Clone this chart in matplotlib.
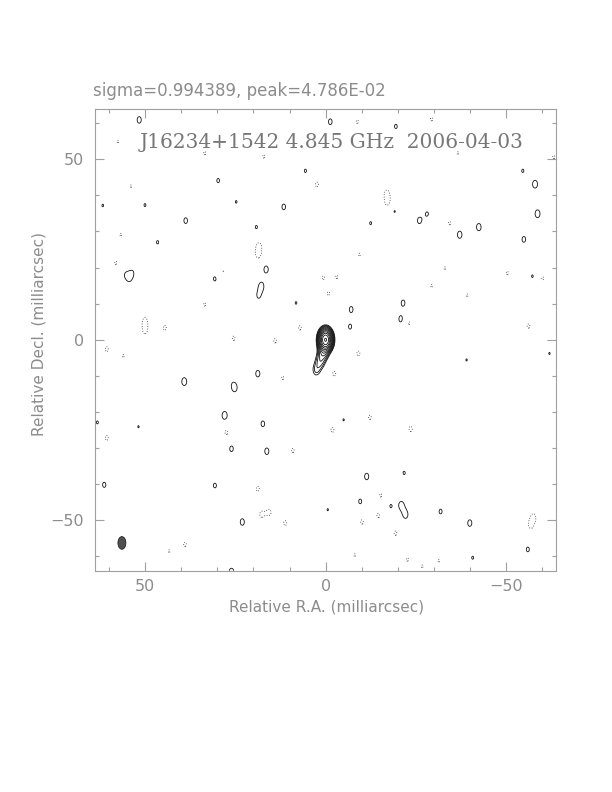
import matplotlib
matplotlib.use('Agg')
import matplotlib.pyplot as plt
import numpy as np
from matplotlib.patches import Ellipse
from matplotlib.ticker import MultipleLocator

# Header values
sigma_txt = 'sigma=0.994389, peak=4.786E-02'
title_txt = 'J16234+1542 4.845 GHz  2006-04-03'

# Restoring beam (mas): FWHM along RA and Dec, and where it is drawn
beam_w, beam_h = 2.2, 3.5
beam_x, beam_y = 56.5, -56.3

# Source components (x = rel. RA mas, y = rel. Dec mas, flux in mJy/beam)
comp_x = [0.0, 0.6, 1.5, 2.6]
comp_y = [0.0, -3.4, -6.0, -8.4]
comp_f = [47.0, 3.6, 2.1, 1.45]

# Positive noise peaks
pos_x = [51.7, 29.8, 50.1, 38.8, 11.6, 19.2, 5.6, 46.6, 30.7, 55.6, 53.5, 54.4,
         16.5, 17.8, 18.6, 8.2, 24.8, 61.8,
         -1.3, -19.5, -54.7, -58.1, -58.8, -19.1, -26.0, -28.2, -12.5, -37.2,
         -42.5, -55.0, -57.4, -21.5, -7.1, -20.9, -6.8,
         39.2, 25.2, 25.9, 18.8, 28.0, 17.4, 26.1, 16.3, 63.3, 61.4, 30.7, 23.1,
         -11.4, -21.8, -9.6, -18.1, -21.0, -22.2, -31.9, -40.0, -56.1, -40.8,
         26.1, -5.0, 51.9, -0.6, -39.1, -62.1]
pos_y = [60.9, 44.1, 37.3, 33.0, 36.8, 31.2, 46.8, 27.0, 16.9, 18.1, 18.7, 16.7,
         19.5, 14.9, 12.1, 10.2, 38.2, 37.2,
         60.4, 59.1, 46.8, 43.1, 34.9, 35.6, 33.0, 34.9, 32.3, 29.1,
         31.2, 27.8, 17.6, 10.2, 8.4, 5.7, 3.6,
         -11.6, -13.4, -11.9, -9.4, -21.0, -23.3, -30.2, -30.9, -22.9, -40.2, -40.4, -50.5,
         -37.9, -36.9, -44.8, -46.1, -45.8, -48.5, -47.6, -50.8, -58.1, -60.4,
         -64.4, -22.2, -24.1, -47.1, -5.6, -3.8]
pos_a = [1.2, 1.08, 1.04, 1.15, 1.15, 1.05, 1.05, 1.05, 1.1, 0.8, 0.85, 0.8,
         1.22, 1.22, 1.02, 1.03, 1.03, 1.03,
         1.15, 1.08, 1.05, 1.3, 1.3, 1.05, 1.15, 1.04, 1.04, 1.25,
         1.25, 1.15, 1.04, 1.15, 1.15, 1.2, 1.1,
         1.3, 1.15, 0.45, 1.2, 1.33, 1.15, 1.15, 1.2, 1.04, 1.12, 1.1, 1.2,
         1.2, 1.05, 1.1, 1.04, 1.22, 1.22, 1.1, 1.2, 1.1, 1.04,
         1.3, 1.02, 1.02, 1.02, 1.02, 1.02]

# Negative noise troughs
neg_x = [18.5, 18.7, 2.4, 50.1, 50.1, 44.6, 25.5, 14.0, 7.1, 58.2, 56.8, 54.0,
         33.5, 17.1, 33.5, 28.5, 0.6, 57.6,
         -8.8, -29.4, -17.0, -17.2, -36.7, -63.3, -34.4, -50.4, -60.2, -9.4,
         -33.1, -29.4, -39.3, -23.1, -56.3, -3.1, -0.8,
         60.7, 56.1, -9.1, -2.4, 11.9, 27.5, -1.9, -12.3, -23.6, 60.7, 9.1,
         18.8, 15.6, 17.8, 11.2, -15.3, -14.6, -10.1, -19.4, 39.0, 43.4, -22.7,
         -31.4, -57.7, -56.9, -8.1, -26.8]
neg_y = [26.0, 23.5, 43.0, 5.3, 2.5, 3.3, 0.4, -0.3, 3.3, 21.3, 29.1, 42.5,
         51.7, 50.8, 9.8, 19.0, 17.2, 54.9,
         60.4, 61.1, 40.6, 38.0, 51.7, 50.6, 32.3, 18.5, 17.0, 23.6,
         19.8, 14.9, 12.3, 4.6, 3.8, 17.4, 12.8,
         -2.6, -4.5, -3.8, -9.4, -10.6, -25.7, -25.0, -21.5, -24.7, -27.2, -30.7,
         -41.3, -47.8, -48.4, -50.8, -43.1, -48.7, -50.5, -53.6, -56.7, -58.6, -60.9,
         -61.3, -49.1, -51.4, -59.7, -62.8]
neg_a = [-1.1, -1.1, -1.1, -1.1, -1.1, -1.1, -1.08, -1.08, -1.08, -1.05, -1.03, -1.03,
         -1.05, -1.05, -1.05, -1.03, -1.05, -1.03,
         -1.05, -1.05, -1.1, -1.1, -1.03, -1.05, -1.05, -1.05, -1.05, -1.03,
         -1.03, -1.03, -1.03, -1.08, -1.08, -1.05, -1.05,
         -1.1, -1.03, -1.1, -1.1, -1.05, -1.1, -1.1, -1.08, -1.12, -1.1, -1.08,
         -1.1, -1.1, -1.1, -1.1, -1.05, -1.08, -1.08, -1.08, -1.08, -1.03, -1.05,
         -1.03, -1.1, -1.1, -1.03, -1.03]

# Contour levels (mJy/beam)
levels_neg = [-1.0]
levels_pos = [1.0, 1.41, 2.0, 2.83, 4.0, 5.66, 8.0, 11.3, 16.0, 22.6, 32.0, 45.3]

# Map grid and model image (components restored with the beam)
step = 0.1
xv = np.arange(-64.0, 64.0 + step / 2, step)
yv = np.arange(-64.0, 64.0 + step / 2, step)
X, Y = np.meshgrid(xv, yv)
sx = beam_w / 2.3548
sy = beam_h / 2.3548
img = np.zeros_like(X)


def add_blob(x0, y0, a):
    i0 = max(np.searchsorted(yv, y0 - 7), 0)
    i1 = min(np.searchsorted(yv, y0 + 7), len(yv))
    j0 = max(np.searchsorted(xv, x0 - 5), 0)
    j1 = min(np.searchsorted(xv, x0 + 5), len(xv))
    if i1 <= i0 or j1 <= j0:
        return
    gx = X[i0:i1, j0:j1] - x0
    gy = Y[i0:i1, j0:j1] - y0
    img[i0:i1, j0:j1] += a * np.exp(-(gx**2 / (2 * sx**2) + gy**2 / (2 * sy**2)))


for xs, ys, amps in [(comp_x, comp_y, comp_f), (pos_x, pos_y, pos_a), (neg_x, neg_y, neg_a)]:
    for x0, y0, a in zip(xs, ys, amps):
        add_blob(x0, y0, a)

# Figure
fig = plt.figure(figsize=(6.12, 7.92), dpi=100)
ax = fig.add_axes([0.155, 0.2794, 0.754, 0.5833])

ax.contour(X, Y, img, levels=levels_pos, colors='#111111', linewidths=0.6)
ax.contour(X, Y, img, levels=levels_neg, colors='#333333', linewidths=0.6,
           linestyles=[(0, (1, 2))])

ax.add_patch(Ellipse((beam_x, beam_y), beam_w, beam_h,
                     facecolor='#505050', edgecolor='#222222', linewidth=0.6))

ax.set_xlim(64, -64)
ax.set_ylim(-64, 64)

gray = '#8c8c8c'
for sp in ax.spines.values():
    sp.set_color('#a0a0a0')
    sp.set_linewidth(0.8)
ax.xaxis.set_major_locator(MultipleLocator(50))
ax.xaxis.set_minor_locator(MultipleLocator(10))
ax.yaxis.set_major_locator(MultipleLocator(50))
ax.yaxis.set_minor_locator(MultipleLocator(10))
ax.tick_params(which='both', direction='in', top=True, right=True,
               color='#a0a0a0', labelcolor=gray, labelsize=11.5)
ax.tick_params(which='major', length=6.5, width=0.8, pad=6)
ax.tick_params(which='minor', length=3, width=0.8)
ax.tick_params(axis='y', which='major', pad=8)

ax.text(0.514, 0.928, title_txt, transform=ax.transAxes, ha='center', va='center',
        fontsize=14.5, family='DejaVu Serif', color='#777777')

fig.text(93 / 612, 1 - 91 / 792, sigma_txt, ha='left', va='center',
         fontsize=12, color=gray)
fig.text(326.3 / 612, 1 - 607 / 792, 'Relative R.A. (milliarcsec)', ha='center',
         va='center', fontsize=11, color=gray)
fig.text(39 / 612, 1 - 334 / 792, 'Relative Decl. (milliarcsec)', ha='center',
         va='center', fontsize=11, color=gray, rotation=90)

fig.savefig('out.png', dpi=100, facecolor='white')
